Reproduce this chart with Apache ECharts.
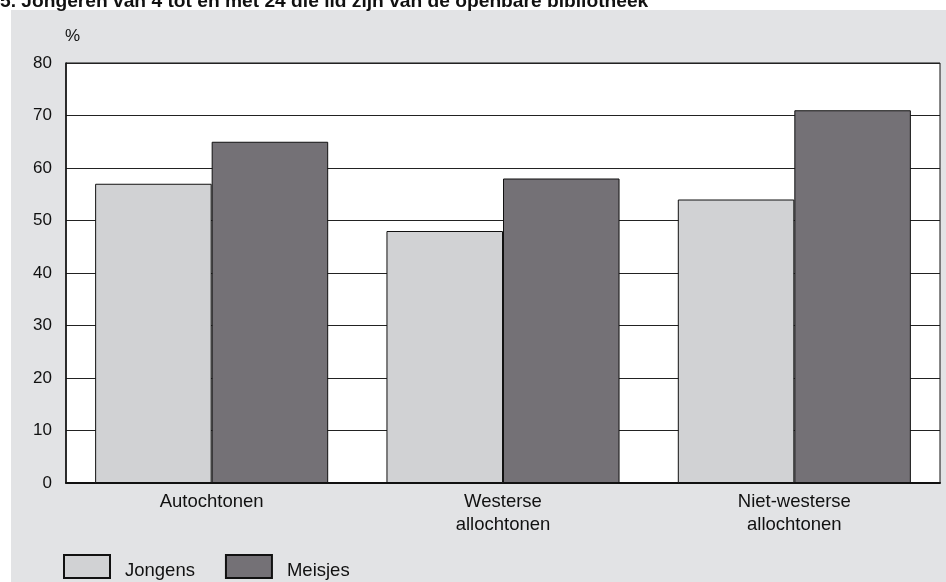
<!DOCTYPE html>
<html><head><meta charset="utf-8">
<script src="https://cdn.jsdelivr.net/npm/echarts@6/dist/echarts.min.js"></script>
<style>html,body{margin:0;padding:0;background:#fff}#c{width:946px;height:582px}</style>
</head><body><div id="c"></div>
<script>
const categories = ['Autochtonen', 'Westerse\nallochtonen', 'Niet-westerse\nallochtonen'];
const jongens = [57, 48, 54];
const meisjes = [65, 58, 71];
const yTicks = [0, 10, 20, 30, 40, 50, 60, 70, 80];
const titleText = '5. Jongeren van 4 tot en met 24 die lid zijn van de openbare bibliotheek';

const chart = echarts.init(document.getElementById('c'), null, {renderer: 'canvas'});
const font = 'Liberation Sans, Arial, sans-serif';
chart.setOption({
  animation: false,
  backgroundColor: '#ffffff',
  graphic: [
    {type: 'rect', z: -10, shape: {x: 11, y: 10, width: 935, height: 572}, style: {fill: '#e2e3e5'}},
    {type: 'text', left: 65, top: 28, style: {text: '%', font: '17px ' + font, fill: '#111'}}
  ],
  title: {text: titleText, left: 0, top: -8, padding: 0,
    textStyle: {fontFamily: font, fontSize: 19.2, fontWeight: 'bold', color: '#111'}},
  legend: {left: 63, top: 554, padding: 0, itemWidth: 46, itemHeight: 23, itemGap: 30,
    formatter: '{t|{name}}',
    textStyle: {fontFamily: font, fontSize: 18.5, color: '#111',
      rich: {t: {fontFamily: font, fontSize: 18.5, color: '#111', padding: [9, 0, 0, 10]}}},
    data: ['Jongens', 'Meisjes'], icon: 'rect'},
  grid: {left: 66, top: 63, right: 6, bottom: 99, show: true, backgroundColor: '#fff',
    borderColor: '#111', borderWidth: 1},
  xAxis: {type: 'category', data: categories,
    axisLine: {lineStyle: {color: '#111', width: 2}}, axisTick: {show: false},
    axisLabel: {fontFamily: font, fontSize: 18.5, color: '#111', lineHeight: 23, margin: 7}},
  yAxis: {type: 'value', min: yTicks[0], max: yTicks[yTicks.length - 1], interval: 10,
    axisLine: {show: true, lineStyle: {color: '#111', width: 1.5}}, axisTick: {show: false},
    splitLine: {lineStyle: {color: '#222', width: 1}},
    axisLabel: {fontFamily: font, fontSize: 17, color: '#111', margin: 14}},
  series: [
    {name: 'Jongens', type: 'bar', data: jongens, barGap: '0%', barCategoryGap: '20%',
      itemStyle: {color: '#d1d2d4', borderColor: '#111', borderWidth: 1}},
    {name: 'Meisjes', type: 'bar', data: meisjes,
      itemStyle: {color: '#747176', borderColor: '#111', borderWidth: 1}}
  ]
});
</script></body></html>
